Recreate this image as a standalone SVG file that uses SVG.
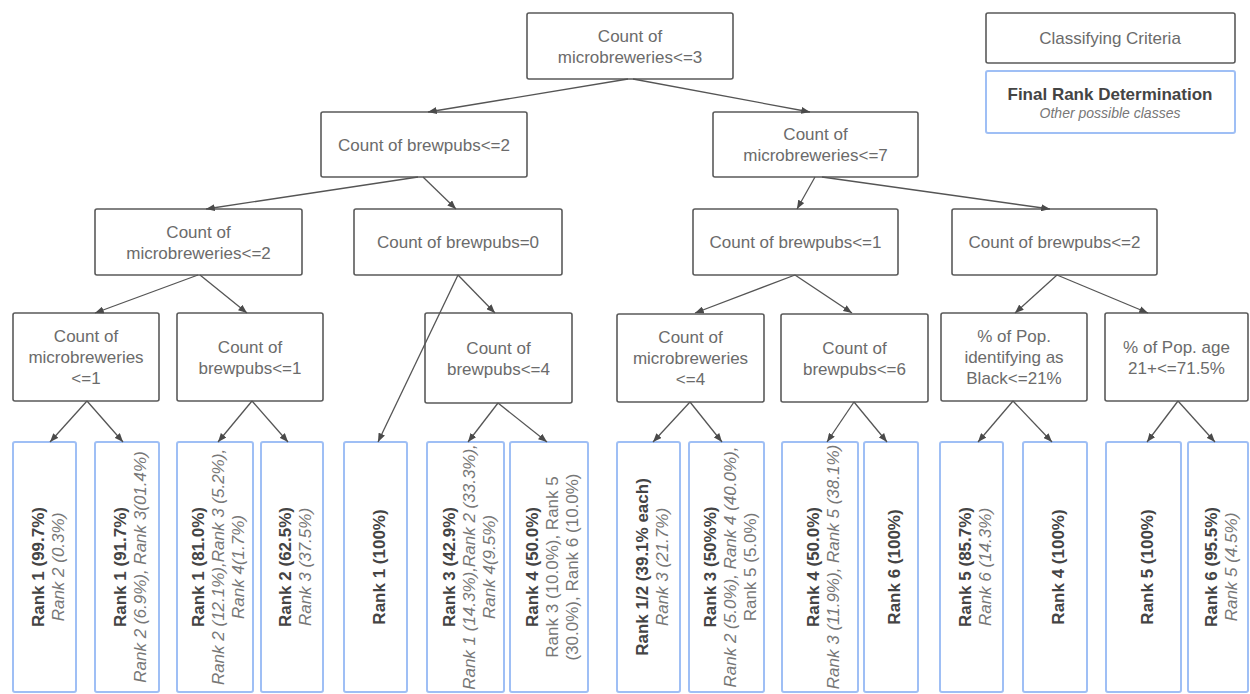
<svg xmlns="http://www.w3.org/2000/svg" width="1250" height="694" viewBox="0 0 1250 694">
<defs>
<marker id="arr" viewBox="0 0 10 8" refX="10" refY="4" markerWidth="9" markerHeight="7" markerUnits="userSpaceOnUse" orient="auto">
<path d="M0,0 L10,4 L0,8 z" fill="#4a4a4a"/>
</marker>
<style>
.node rect{fill:#fff;stroke:#5a5a5a;stroke-width:1.6}
.leaf rect{fill:#fff;stroke:#9fbff5;stroke-width:2}
text{font-family:"Liberation Sans",Arial,sans-serif;font-size:17px}
.nt{fill:#6b6b6b;text-anchor:middle}
.lb{fill:#444;font-weight:bold;text-anchor:middle}
.li{fill:#777;font-style:italic;text-anchor:middle}
.lr{fill:#777;text-anchor:middle}
.sm{font-size:14px}
#connectors line{stroke:#555;stroke-width:1.3;marker-end:url(#arr)}
</style>
</defs>
<rect width="1250" height="694" fill="#fff"/>

<g id="legend-criteria" class="node"><rect x="986" y="13" width="249" height="50" rx="2"/><text class="nt" x="1110" y="44">Classifying Criteria</text></g>
<g id="legend-final" class="leaf"><rect x="986" y="71" width="249" height="62" rx="2"/><text class="lb" x="1110" y="100">Final Rank Determination</text><text class="li sm" x="1110" y="118">Other possible classes</text></g>

<g id="n-root" class="node"><rect x="527" y="13" width="206" height="66" rx="2"/><text class="nt" x="630" y="42">Count of</text><text class="nt" x="630" y="62.5">microbreweries&lt;=3</text></g>
<g id="n-1L" class="node"><rect x="321" y="112" width="206" height="65" rx="2"/><text class="nt" x="424" y="150.5">Count of brewpubs&lt;=2</text></g>
<g id="n-1R" class="node"><rect x="713" y="112" width="205" height="65" rx="2"/><text class="nt" x="815.5" y="140">Count of</text><text class="nt" x="815.5" y="161">microbreweries&lt;=7</text></g>
<g id="n-2A" class="node"><rect x="95" y="209" width="207" height="66" rx="2"/><text class="nt" x="198.5" y="237.5">Count of</text><text class="nt" x="198.5" y="258.5">microbreweries&lt;=2</text></g>
<g id="n-2B" class="node"><rect x="354" y="209" width="208" height="66" rx="2"/><text class="nt" x="458" y="248">Count of brewpubs=0</text></g>
<g id="n-2C" class="node"><rect x="693" y="209" width="205" height="66" rx="2"/><text class="nt" x="795.5" y="248">Count of brewpubs&lt;=1</text></g>
<g id="n-2D" class="node"><rect x="952" y="209" width="205" height="66" rx="2"/><text class="nt" x="1054.5" y="248">Count of brewpubs&lt;=2</text></g>

<g id="n-3a" class="node"><rect x="13" y="313" width="146" height="88" rx="2"/><text class="nt" x="86" y="342">Count of</text><text class="nt" x="86" y="363">microbreweries</text><text class="nt" x="86" y="384">&lt;=1</text></g>
<g id="n-3b" class="node"><rect x="177" y="313" width="146" height="88" rx="2"/><text class="nt" x="250" y="352.5">Count of</text><text class="nt" x="250" y="373.5">brewpubs&lt;=1</text></g>
<g id="n-3c" class="node"><rect x="425" y="313" width="147" height="90" rx="2"/><text class="nt" x="498.5" y="353.5">Count of</text><text class="nt" x="498.5" y="374.5">brewpubs&lt;=4</text></g>
<g id="n-3d" class="node"><rect x="617" y="314" width="147" height="88" rx="2"/><text class="nt" x="690.5" y="343">Count of</text><text class="nt" x="690.5" y="364">microbreweries</text><text class="nt" x="690.5" y="385">&lt;=4</text></g>
<g id="n-3e" class="node"><rect x="781" y="314" width="147" height="88" rx="2"/><text class="nt" x="854.5" y="353.5">Count of</text><text class="nt" x="854.5" y="374.5">brewpubs&lt;=6</text></g>
<g id="n-3f" class="node"><rect x="941" y="313" width="146" height="88" rx="2"/><text class="nt" x="1014" y="342">% of Pop.</text><text class="nt" x="1014" y="363">identifying as</text><text class="nt" x="1014" y="384">Black&lt;=21%</text></g>
<g id="n-3g" class="node"><rect x="1105" y="313" width="143" height="88" rx="2"/><text class="nt" x="1176.5" y="352.5">% of Pop. age</text><text class="nt" x="1176.5" y="373.5">21+&lt;=71.5%</text></g>

<g id="leaf-1" class="leaf"><rect x="13" y="442" width="63" height="250" rx="2"/><g transform="translate(44.5,567) rotate(-90)"><text class="lb" x="0" y="-1">Rank 1 (99.7%)</text><text class="li" x="0" y="19">Rank 2 (0.3%)</text></g></g>
<g id="leaf-2" class="leaf"><rect x="95" y="442" width="64" height="250" rx="2"/><g transform="translate(127,567) rotate(-90)"><text class="lb" x="0" y="-1">Rank 1 (91.7%)</text><text class="li" x="0" y="19">Rank 2 (6.9%), Rank 3(01.4%)</text></g></g>
<g id="leaf-3" class="leaf"><rect x="177" y="442" width="76" height="250" rx="2"/><g transform="translate(215,567) rotate(-90)"><text class="lb" x="0" y="-11">Rank 1 (81.0%)</text><text class="li" x="0" y="9">Rank 2 (12.1%),Rank 3 (5.2%),</text><text class="li" x="0" y="29">Rank 4(1.7%)</text></g></g>
<g id="leaf-4" class="leaf"><rect x="261" y="442" width="62" height="250" rx="2"/><g transform="translate(292,567) rotate(-90)"><text class="lb" x="0" y="-1">Rank 2 (62.5%)</text><text class="li" x="0" y="19">Rank 3 (37.5%)</text></g></g>
<g id="leaf-5" class="leaf"><rect x="344" y="442" width="63" height="250" rx="2"/><g transform="translate(375.5,567) rotate(-90)"><text class="lb" x="0" y="9">Rank 1 (100%)</text></g></g>
<g id="leaf-6" class="leaf"><rect x="427" y="442" width="77" height="250" rx="2"/><g transform="translate(465.5,567) rotate(-90)"><text class="lb" x="0" y="-11">Rank 3 (42.9%)</text><text class="li" x="0" y="9">Rank 1 (14.3%),Rank 2 (33.3%),</text><text class="li" x="0" y="29">Rank 4(9.5%)</text></g></g>
<g id="leaf-7" class="leaf"><rect x="510" y="442" width="78" height="250" rx="2"/><g transform="translate(549,567) rotate(-90)"><text class="lb" x="0" y="-11">Rank 4 (50.0%)</text><text class="lr" x="0" y="9">Rank 3 (10.0%), Rank 5</text><text class="lr" x="0" y="29">(30.0%), Rank 6 (10.0%)</text></g></g>
<g id="leaf-8" class="leaf"><rect x="617" y="442" width="63" height="250" rx="2"/><g transform="translate(648.5,567) rotate(-90)"><text class="lb" x="0" y="-1">Rank 1/2 (39.1% each)</text><text class="li" x="0" y="19">Rank 3 (21.7%)</text></g></g>
<g id="leaf-9" class="leaf"><rect x="689" y="442" width="75" height="250" rx="2"/><g transform="translate(726.5,567) rotate(-90)"><text class="lb" x="0" y="-11">Rank 3 (50%%)</text><text class="li" x="0" y="9">Rank 2 (5.0%), Rank 4 (40.0%),</text><text class="lr" x="0" y="29">Rank 5 (5.0%)</text></g></g>
<g id="leaf-10" class="leaf"><rect x="782" y="442" width="76" height="250" rx="2"/><g transform="translate(820,567) rotate(-90)"><text class="lb" x="0" y="-1">Rank 4 (50.0%)</text><text class="li" x="0" y="19">Rank 3 (11.9%), Rank 5 (38.1%)</text></g></g>
<g id="leaf-11" class="leaf"><rect x="864" y="442" width="54" height="250" rx="2"/><g transform="translate(891,567) rotate(-90)"><text class="lb" x="0" y="9">Rank 6 (100%)</text></g></g>
<g id="leaf-12" class="leaf"><rect x="940" y="442" width="63" height="250" rx="2"/><g transform="translate(971.5,567) rotate(-90)"><text class="lb" x="0" y="-1">Rank 5 (85.7%)</text><text class="li" x="0" y="19">Rank 6 (14.3%)</text></g></g>
<g id="leaf-13" class="leaf"><rect x="1023" y="442" width="64" height="250" rx="2"/><g transform="translate(1055,567) rotate(-90)"><text class="lb" x="0" y="9">Rank 4 (100%)</text></g></g>
<g id="leaf-14" class="leaf"><rect x="1106" y="442" width="75" height="250" rx="2"/><g transform="translate(1143.5,567) rotate(-90)"><text class="lb" x="0" y="9">Rank 5 (100%)</text></g></g>
<g id="leaf-15" class="leaf"><rect x="1188" y="442" width="60" height="250" rx="2"/><g transform="translate(1218,567) rotate(-90)"><text class="lb" x="0" y="-1">Rank 6 (95.5%)</text><text class="li" x="0" y="19">Rank 5 (4.5%)</text></g></g>

<g id="connectors">
<line x1="628" y1="79" x2="428" y2="112"/>
<line x1="633" y1="79" x2="810" y2="112"/>
<line x1="418" y1="177" x2="206" y2="209"/>
<line x1="423" y1="177" x2="456" y2="209"/>
<line x1="815" y1="177" x2="797" y2="209"/>
<line x1="822" y1="177" x2="1050" y2="209"/>
<line x1="198" y1="275" x2="95" y2="313"/>
<line x1="200" y1="275" x2="247" y2="313"/>
<line x1="458" y1="275" x2="378" y2="442"/>
<line x1="458" y1="275" x2="495" y2="313"/>
<line x1="795" y1="275" x2="695" y2="313"/>
<line x1="795" y1="275" x2="852" y2="313"/>
<line x1="1057" y1="275" x2="1015" y2="313"/>
<line x1="1057" y1="275" x2="1148" y2="313"/>
<line x1="87" y1="401" x2="50" y2="442"/>
<line x1="87" y1="401" x2="123" y2="442"/>
<line x1="252" y1="401" x2="218" y2="442"/>
<line x1="252" y1="401" x2="288" y2="442"/>
<line x1="498" y1="403" x2="468" y2="442"/>
<line x1="498" y1="403" x2="547" y2="442"/>
<line x1="690" y1="402" x2="653" y2="442"/>
<line x1="690" y1="402" x2="722" y2="442"/>
<line x1="854" y1="402" x2="827" y2="442"/>
<line x1="854" y1="402" x2="887" y2="442"/>
<line x1="1013" y1="401" x2="978" y2="442"/>
<line x1="1013" y1="401" x2="1052" y2="442"/>
<line x1="1178" y1="401" x2="1147" y2="442"/>
<line x1="1178" y1="401" x2="1215" y2="442"/>
</g>
</svg>
